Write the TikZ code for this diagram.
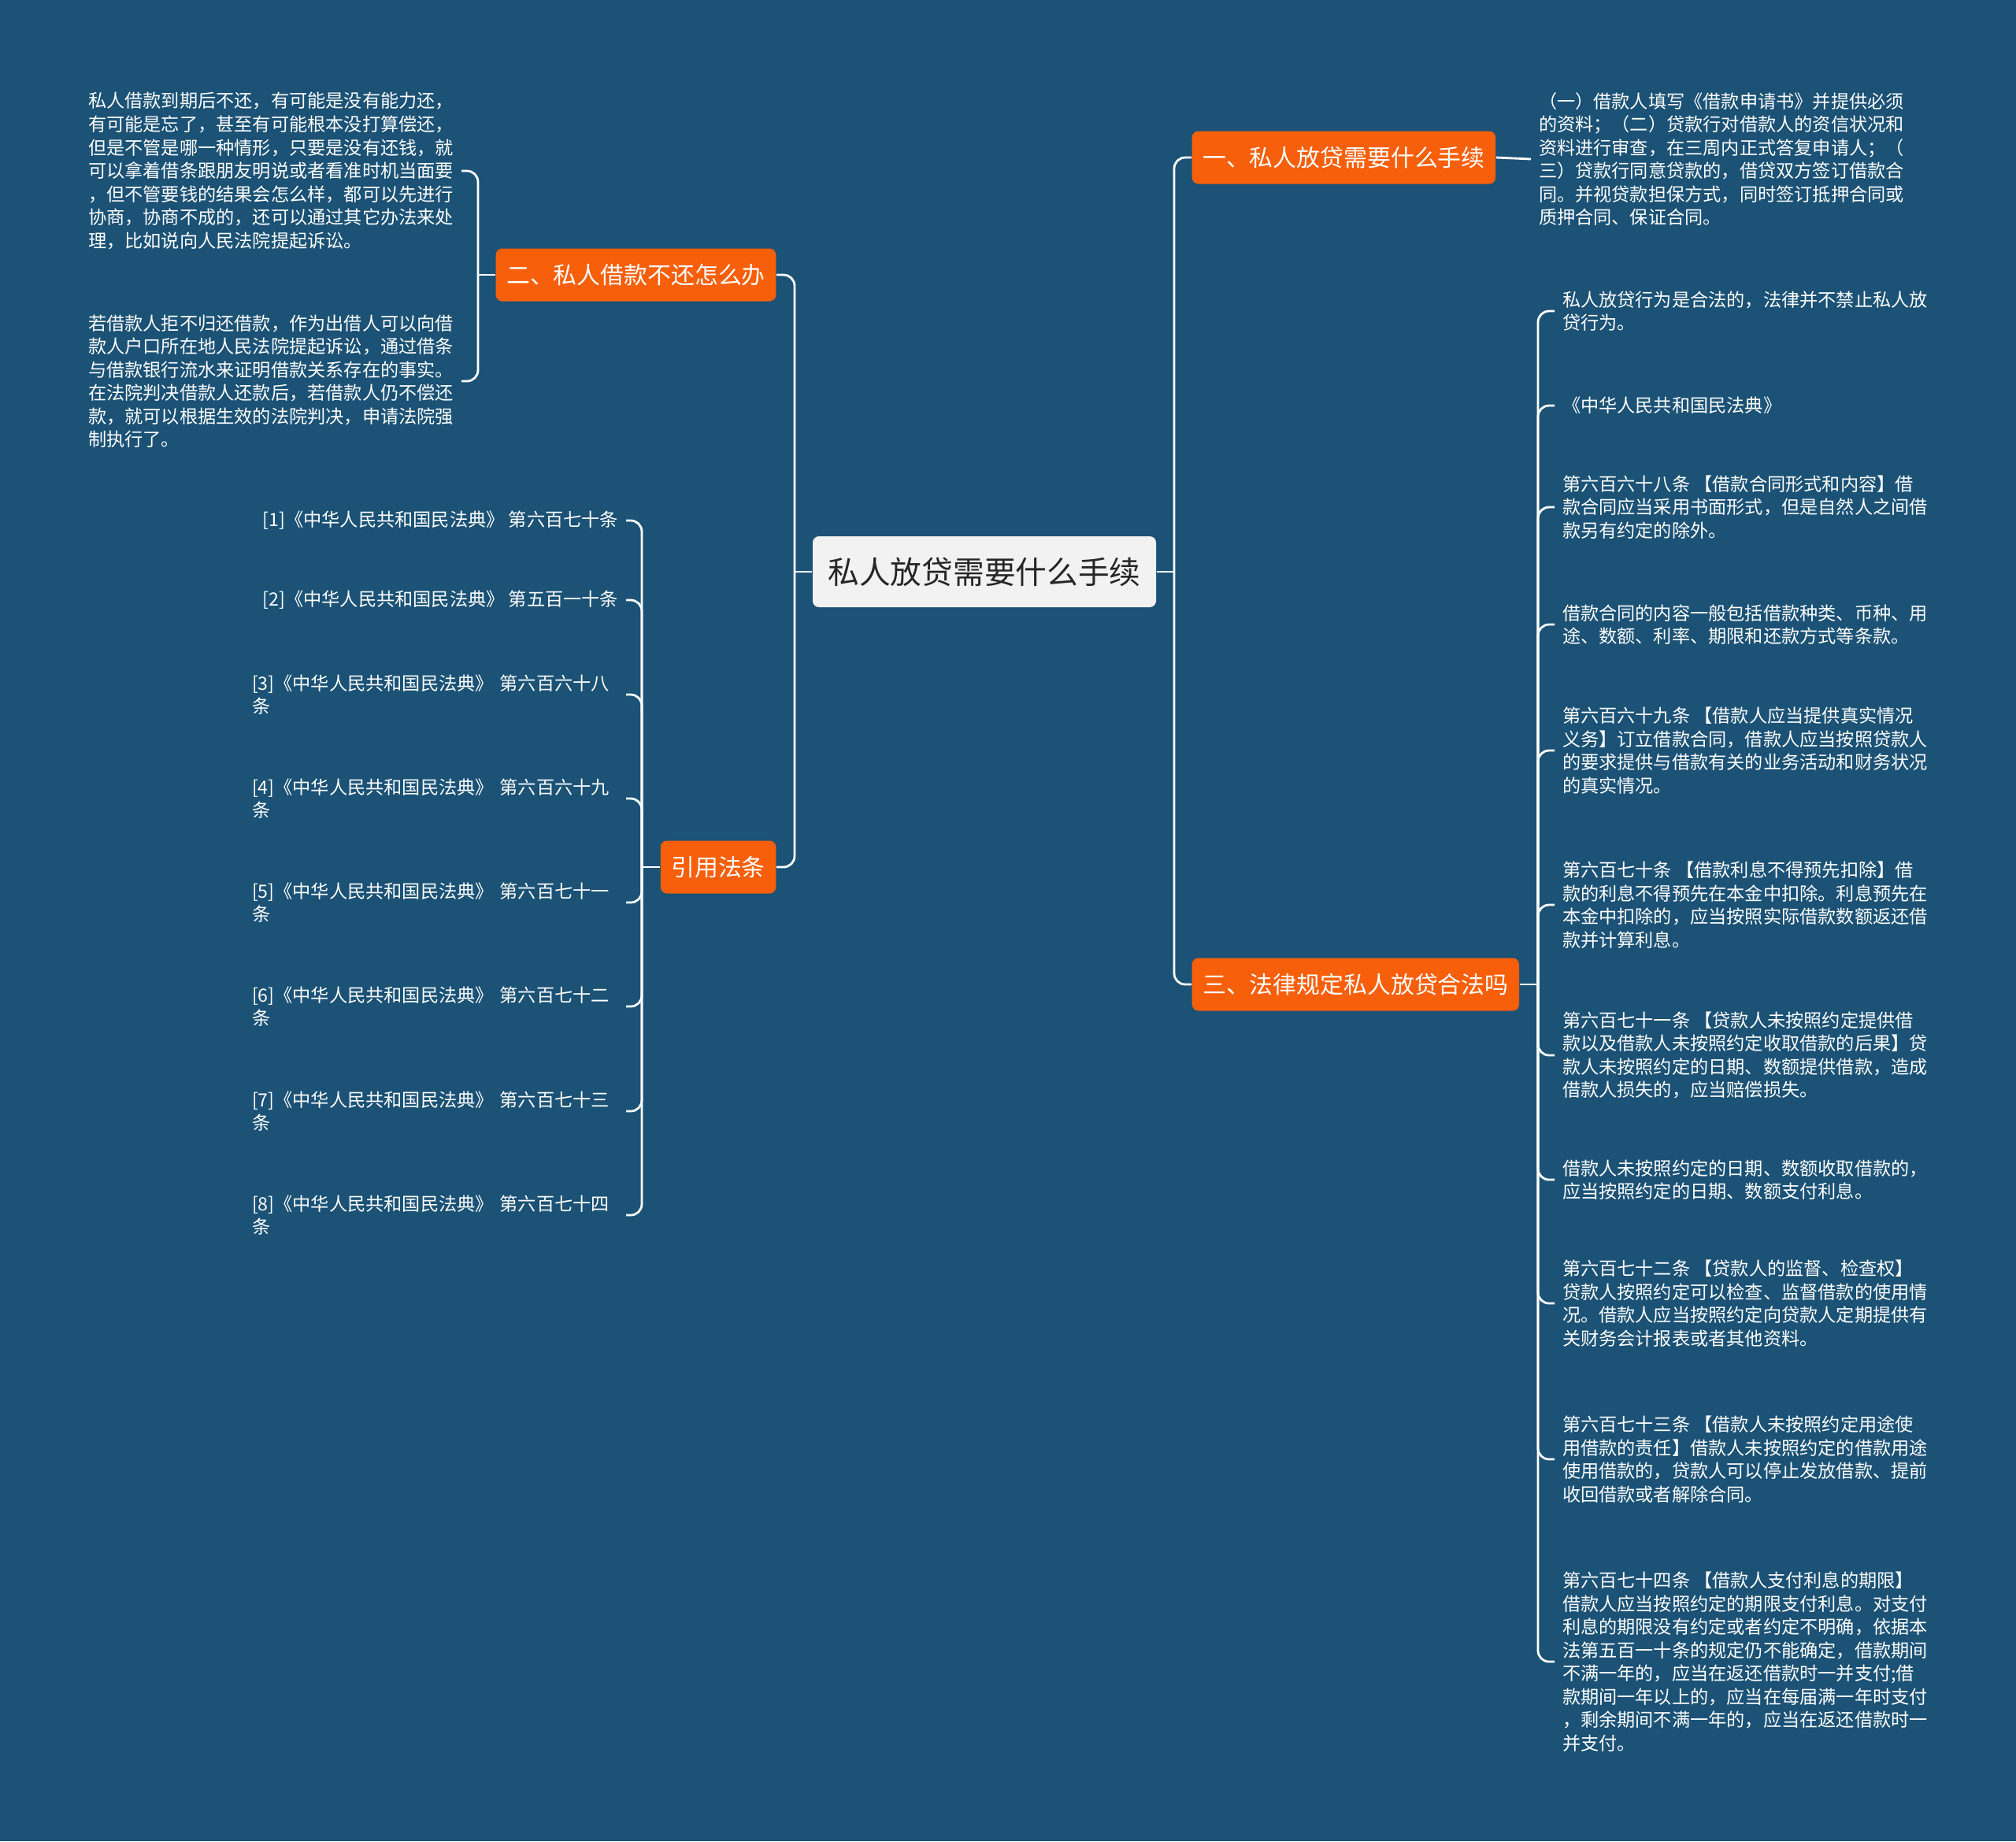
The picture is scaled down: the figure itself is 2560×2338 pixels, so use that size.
\documentclass[tikz,border=0pt]{standalone}
\usepackage{fontspec}
\usepackage{xcolor}
\usepackage{tikz}
\usetikzlibrary{positioning, calc}
\setmainfont{Noto Sans CJK SC}
\definecolor{fond}{HTML}{1B5276}
\definecolor{accent}{HTML}{F85F0A}
\definecolor{clair}{HTML}{F2F2F2}
\definecolor{sombre}{HTML}{262626}
\tikzset{
  racine/.style={rectangle, rounded corners=0.8mm, fill=clair, text=sombre,
    font=\fontsize{11.3}{13}\selectfont, minimum width=43.6mm,
    minimum height=9mm, inner sep=0},
  branche/.style={rectangle, rounded corners=0.8mm, fill=accent, text=white,
    font=\fontsize{8.5}{10}\selectfont, minimum height=6.7mm,
    inner xsep=1.35mm, inner ysep=0},
  feuille/.style={text=white, font=\fontsize{6.6}{8.4}\selectfont,
    align=left, inner sep=0, outer xsep=1mm, outer ysep=0},
  citation/.style={feuille, text width=46.5mm},
  lien/.style={draw=white, line width=0.8pt, rounded corners=1.4mm}
}

\begin{document}
\begin{tikzpicture}[x=0.1mm, y=-0.1mm]
    \fill[fond] (0,0) rectangle (2560,2338);

    \node[racine] (centre) at (1250,726) {私人放贷需要什么手续};

    \node[branche, anchor=west] (proc) at (1513,200) {一、私人放贷需要什么手续};
    \node[branche, anchor=west] (legal) at (1513,1250) {三、法律规定私人放贷合法吗};
    \node[branche, anchor=east] (refus) at (986,349) {二、私人借款不还怎么办};
    \node[branche, anchor=east] (refs) at (986,1101) {引用法条};

    % un
    \node[feuille, anchor=west] (p1) at (1944,202) {（一）借款人填写《借款申请书》并提供必须\\的资料；（二）贷款行对借款人的资信状况和\\资料进行审查，在三周内正式答复申请人；（\\三）贷款行同意贷款的，借贷双方签订借款合\\同。并视贷款担保方式，同时签订抵押合同或\\质押合同、保证合同。};

    % trois
    \node[feuille, anchor=west] (l1) at (1974,395) {私人放贷行为是合法的，法律并不禁止私人放\\贷行为。};
    \node[feuille, anchor=west] (l2) at (1974,515) {《中华人民共和国民法典》};
    \node[feuille, anchor=west] (l3) at (1974,644) {第六百六十八条 【借款合同形式和内容】借\\款合同应当采用书面形式，但是自然人之间借\\款另有约定的除外。};
    \node[feuille, anchor=west] (l4) at (1974,793) {借款合同的内容一般包括借款种类、币种、用\\途、数额、利率、期限和还款方式等条款。};
    \node[feuille, anchor=west] (l5) at (1974,953) {第六百六十九条 【借款人应当提供真实情况\\义务】订立借款合同，借款人应当按照贷款人\\的要求提供与借款有关的业务活动和财务状况\\的真实情况。};
    \node[feuille, anchor=west] (l6) at (1974,1149) {第六百七十条 【借款利息不得预先扣除】借\\款的利息不得预先在本金中扣除。利息预先在\\本金中扣除的，应当按照实际借款数额返还借\\款并计算利息。};
    \node[feuille, anchor=west] (l7) at (1974,1340) {第六百七十一条 【贷款人未按照约定提供借\\款以及借款人未按照约定收取借款的后果】贷\\款人未按照约定的日期、数额提供借款，造成\\借款人损失的，应当赔偿损失。};
    \node[feuille, anchor=west] (l8) at (1974,1498) {借款人未按照约定的日期、数额收取借款的，\\应当按照约定的日期、数额支付利息。};
    \node[feuille, anchor=west] (l9) at (1974,1655) {第六百七十二条 【贷款人的监督、检查权】\\贷款人按照约定可以检查、监督借款的使用情\\况。借款人应当按照约定向贷款人定期提供有\\关财务会计报表或者其他资料。};
    \node[feuille, anchor=west] (l10) at (1974,1853) {第六百七十三条 【借款人未按照约定用途使\\用借款的责任】借款人未按照约定的借款用途\\使用借款的，贷款人可以停止发放借款、提前\\收回借款或者解除合同。};
    \node[feuille, anchor=west] (l11) at (1974,2110) {第六百七十四条 【借款人支付利息的期限】\\借款人应当按照约定的期限支付利息。对支付\\利息的期限没有约定或者约定不明确，依据本\\法第五百一十条的规定仍不能确定，借款期间\\不满一年的，应当在返还借款时一并支付;借\\款期间一年以上的，应当在每届满一年时支付\\，剩余期间不满一年的，应当在返还借款时一\\并支付。};

    % deux
    \node[feuille, anchor=east] (r1) at (586,217) {私人借款到期后不还，有可能是没有能力还，\\有可能是忘了，甚至有可能根本没打算偿还，\\但是不管是哪一种情形，只要是没有还钱，就\\可以拿着借条跟朋友明说或者看准时机当面要\\，但不管要钱的结果会怎么样，都可以先进行\\协商，协商不成的，还可以通过其它办法来处\\理，比如说向人民法院提起诉讼。};
    \node[feuille, anchor=east] (r2) at (586,484) {若借款人拒不归还借款，作为出借人可以向借\\款人户口所在地人民法院提起诉讼，通过借条\\与借款银行流水来证明借款关系存在的事实。\\在法院判决借款人还款后，若借款人仍不偿还\\款，就可以根据生效的法院判决，申请法院强\\制执行了。};

    % citations
    \node[feuille, anchor=east] (c1) at (795,661) {[1]《中华人民共和国民法典》 第六百七十条};
    \node[feuille, anchor=east] (c2) at (795,762) {[2]《中华人民共和国民法典》 第五百一十条};
    \node[citation, anchor=east] (c3) at (795,882) {[3]《中华人民共和国民法典》 第六百六十八\\条};
    \node[citation, anchor=east] (c4) at (795,1014) {[4]《中华人民共和国民法典》 第六百六十九\\条};
    \node[citation, anchor=east] (c5) at (795,1146) {[5]《中华人民共和国民法典》 第六百七十一\\条};
    \node[citation, anchor=east] (c6) at (795,1278) {[6]《中华人民共和国民法典》 第六百七十二\\条};
    \node[citation, anchor=east] (c7) at (795,1411) {[7]《中华人民共和国民法典》 第六百七十三\\条};
    \node[citation, anchor=east] (c8) at (795,1543) {[8]《中华人民共和国民法典》 第六百七十四\\条};

    \coordinate (jd) at (1491,726);
    \coordinate (jg) at (1009,726);
    \coordinate (jl) at (1953,1250);
    \coordinate (jr) at (607,349);
    \coordinate (jc) at (815,1101);

    \draw[lien] (centre.east) -- (jd);
    \draw[lien] (jd) |- (proc.west);
    \draw[lien] (jd) |- (legal.west);
    \draw[lien] (centre.west) -- (jg);
    \draw[lien] (jg) |- (refus.east);
    \draw[lien] (jg) |- (refs.east);

    \draw[lien] (proc.east) -- (p1.west);

    \draw[lien] (legal.east) -- (jl);
    \draw[lien] (jl) |- (l1.west);
    \draw[lien] (jl) |- (l2.west);
    \draw[lien] (jl) |- (l3.west);
    \draw[lien] (jl) |- (l4.west);
    \draw[lien] (jl) |- (l5.west);
    \draw[lien] (jl) |- (l6.west);
    \draw[lien] (jl) |- (l7.west);
    \draw[lien] (jl) |- (l8.west);
    \draw[lien] (jl) |- (l9.west);
    \draw[lien] (jl) |- (l10.west);
    \draw[lien] (jl) |- (l11.west);

    \draw[lien] (refus.west) -- (jr);
    \draw[lien] (jr) |- (r1.east);
    \draw[lien] (jr) |- (r2.east);

    \draw[lien] (refs.west) -- (jc);
    \draw[lien] (jc) |- (c1.east);
    \draw[lien] (jc) |- (c2.east);
    \draw[lien] (jc) |- (c3.east);
    \draw[lien] (jc) |- (c4.east);
    \draw[lien] (jc) |- (c5.east);
    \draw[lien] (jc) |- (c6.east);
    \draw[lien] (jc) |- (c7.east);
    \draw[lien] (jc) |- (c8.east);
  \end{tikzpicture}
\end{document}
